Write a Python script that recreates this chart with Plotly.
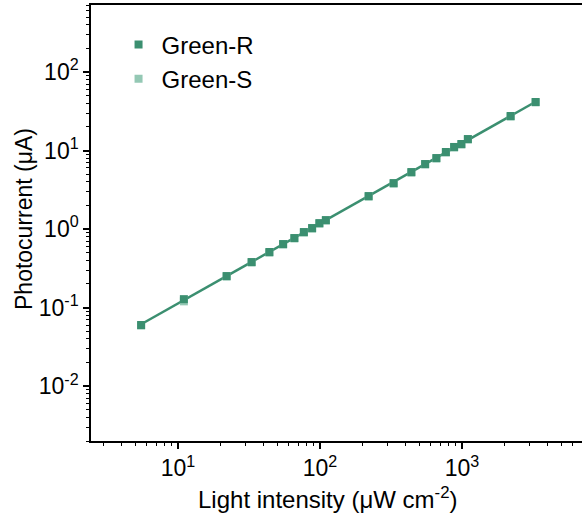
import numpy as np
import plotly.graph_objects as go

intensity = [5.5, 11, 22, 33, 44, 55, 66, 77, 88, 99, 110, 220, 330, 440, 550, 660, 770, 880, 990, 1100, 2200, 3300]
green_r = [0.060, 0.128, 0.252, 0.38, 0.51, 0.644, 0.768, 0.916, 1.03, 1.19, 1.30, 2.63, 3.85, 5.32, 6.73, 8.02, 9.57, 11.1, 12.1, 14.0, 27.5, 41.5]
green_s = [0.059, 0.120, 0.248, 0.375, 0.50, 0.635, 0.76, 0.90, 1.01, 1.17, 1.28, 2.58, 3.78, 5.22, 6.62, 7.90, 9.40, 10.9, 11.9, 13.8, 27.0, 41.0]

y_tickvals = [0.01, 0.1, 1, 10, 100]
y_ticktext = ["10<sup>-2</sup>", "10<sup>-1</sup>", "10<sup>0</sup>", "10<sup>1</sup>", "10<sup>2</sup>"]
x_tickvals = [10, 100, 1000]
x_ticktext = ["10<sup>1</sup>", "10<sup>2</sup>", "10<sup>3</sup>"]

c_r = "#3b8f70"
c_s = "#94c8b4"

lx = np.log10(intensity)
ly = np.log10(green_r)
k, b = np.polyfit(lx, ly, 1)
fit_x = [intensity[0], intensity[-1]]
fit_y = [10 ** (k * np.log10(v) + b) for v in fit_x]

fig = go.Figure()
fig.add_trace(go.Scatter(x=fit_x, y=fit_y, mode="lines", line=dict(color=c_r, width=2.5),
                         showlegend=False, hoverinfo="skip"))
fig.add_trace(go.Scatter(x=intensity, y=green_s, mode="markers", name="Green-S",
                         marker=dict(symbol="square", size=8, color=c_s), legendrank=2))
fig.add_trace(go.Scatter(x=intensity, y=green_r, mode="markers", name="Green-R",
                         marker=dict(symbol="square", size=8, color=c_r), legendrank=1))

font = "Liberation Sans, Arial, sans-serif"
fig.update_layout(
    width=582, height=518,
    margin=dict(l=91, r=0, t=5, b=77),
    plot_bgcolor="white", paper_bgcolor="white",
    font=dict(family=font, size=23, color="black"),
    showlegend=True,
    legend=dict(x=0.050, y=0.960, xanchor="left", yanchor="top", bgcolor="rgba(0,0,0,0)",
                font=dict(size=24), itemwidth=36),
    xaxis=dict(type="log", range=[np.log10(2.44), np.log10(7000)],
               tickvals=x_tickvals, ticktext=x_ticktext,
               ticks="outside", ticklen=6, tickwidth=1.5, tickcolor="black",
               showline=True, linecolor="black", linewidth=1.5, mirror=True,
               showgrid=False, zeroline=False,
               tickfont=dict(size=23),
               minor=dict(ticks="outside", ticklen=3, tickwidth=1.2, tickcolor="black",
                          dtick="D1", showgrid=False)),
    yaxis=dict(type="log", range=[np.log10(0.002), np.log10(713)],
               tickvals=y_tickvals, ticktext=y_ticktext,
               ticks="outside", ticklen=6, tickwidth=1.5, tickcolor="black",
               showline=True, linecolor="black", linewidth=1.5, mirror=False,
               showgrid=False, zeroline=False,
               tickfont=dict(size=23),
               minor=dict(ticks="outside", ticklen=3, tickwidth=1.2, tickcolor="black",
                          dtick="D1", showgrid=False)),
    annotations=[
        dict(text="Light intensity (μW cm<sup>-2</sup>)", xref="paper", yref="paper",
             x=(327.5 - 91) / 491, y=(441 - 498) / 436, xanchor="center", yanchor="middle",
             showarrow=False, font=dict(size=24)),
        dict(text="Photocurrent (μA)", xref="paper", yref="paper",
             x=(24 - 91) / 491, y=(441 - 219) / 436, xanchor="center", yanchor="middle",
             textangle=-90, showarrow=False, font=dict(size=23)),
    ],
)

fig.write_html("out.html")
